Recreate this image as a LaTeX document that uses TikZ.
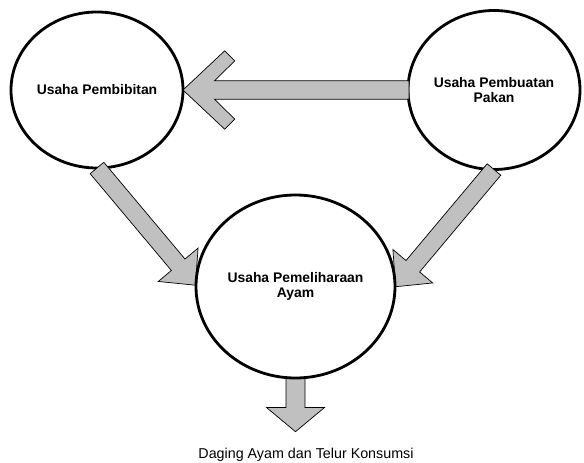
\documentclass[tikz,border=0pt]{standalone}
\usepackage{fontspec}
\setmainfont{Liberation Sans}
\usetikzlibrary{shapes.geometric,calc}
\definecolor{arrgray}{HTML}{C0C0C0}
\pgfdeclarelayer{bubbles}
\pgfdeclarelayer{arrows}
\pgfsetlayers{bubbles,arrows,main}
\begin{document}
\begin{tikzpicture}[x=1pt,y=-1pt,
  bubble/.style={draw=black,line width=2.8pt,fill=white,ellipse,inner sep=0pt,outer sep=0pt,
    align=center,font=\fontsize{13.9}{15}\selectfont\bfseries},
  blockarrow/.style={draw=black,line width=0.7pt,fill=arrgray,line join=miter},
  caption/.style={font=\fontsize{14.3}{16}\selectfont,anchor=base,inner sep=0pt}]
\useasboundingbox (0,0) rectangle (584,463);
\begin{pgfonlayer}{bubbles}
\node[bubble,minimum width=172pt,minimum height=156pt] (L) at (97,90) {Usaha Pembibitan};
\node[bubble,minimum width=172pt,minimum height=159pt] (R) at (494,90) {Usaha Pembuatan\\Pakan};
\end{pgfonlayer}
\node[bubble,minimum width=199pt,minimum height=183pt] (C) at (295.5,286.5) {Usaha Pemeliharaan\\Ayam};
\node[caption] (D) at (306,458.3) {Daging Ayam dan Telur Konsumsi};
\begin{pgfonlayer}{arrows}
% R -> L (swept-back head)
\draw[blockarrow] (L.east) -- ($(L.east)+(41.7,-39.2)$) -- ($(L.east)+(51.7,-29.1)$)
  -- ($(L.east)+(31.5,-9.2)$) -- ($(R.west)+(1,-9.2)$) -- ($(R.west)+(1,9.2)$)
  -- ($(L.east)+(31.5,9.2)$) -- ($(L.east)+(51.7,29.1)$) -- ($(L.east)+(41.7,39.2)$) -- cycle;
% L -> C
\begin{scope}[shift={(L.south)},rotate=-50]
\draw[blockarrow] (0,-8.9) -- (126.3,-8.9) -- (126.3,-26) -- (153,0) -- (126.3,26) -- (126.3,8.9) -- (0,8.9) -- cycle;
\end{scope}
% R -> C
\begin{scope}[shift={(R.south)},rotate=-130]
\draw[blockarrow] (0,-8.9) -- (126.3,-8.9) -- (126.3,-26) -- (153,0) -- (126.3,26) -- (126.3,8.9) -- (0,8.9) -- cycle;
\end{scope}
% C -> output
\begin{scope}[shift={(C.south)}]
\draw[blockarrow] (-9.5,-2) -- (-9.5,29.5) -- (-29,29.5) -- (0,53.7) -- (29,29.5) -- (9.5,29.5) -- (9.5,-2) -- cycle;
\end{scope}
\end{pgfonlayer}
\end{tikzpicture}
\end{document}
